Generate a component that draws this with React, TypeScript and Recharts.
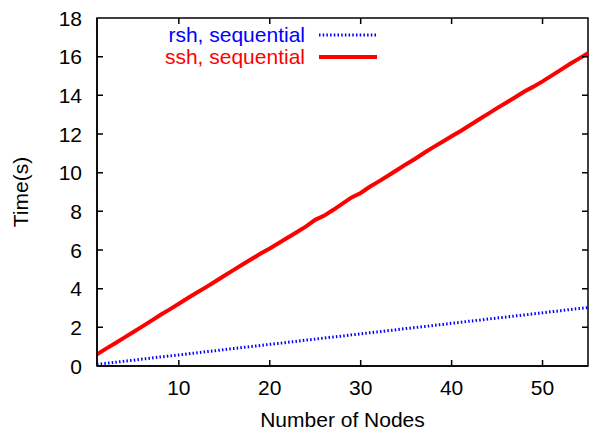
import React from 'react';
import { LineChart, Line, XAxis, YAxis, ReferenceArea } from 'recharts';

const nodes = [
  1, 2, 3, 4, 5, 6, 7, 8, 9, 10, 11, 12, 13, 14, 15, 16, 17, 18, 19, 20,
  21, 22, 23, 24, 25, 26, 27, 28, 29, 30, 31, 32, 33, 34, 35, 36, 37, 38, 39, 40,
  41, 42, 43, 44, 45, 46, 47, 48, 49, 50, 51, 52, 53, 54, 55,
];

const rshSequential = [
  0.08, 0.14, 0.19, 0.25, 0.3, 0.36, 0.41, 0.47, 0.52, 0.57, 0.63, 0.68, 0.74, 0.79, 0.85, 0.9, 0.96, 1.01, 1.06, 1.12,
  1.17, 1.23, 1.28, 1.34, 1.39, 1.45, 1.5, 1.55, 1.61, 1.66, 1.72, 1.77, 1.83, 1.88, 1.94, 1.99, 2.04, 2.1, 2.15, 2.21,
  2.26, 2.32, 2.37, 2.43, 2.48, 2.53, 2.59, 2.64, 2.7, 2.75, 2.81, 2.86, 2.92, 2.97, 3.02,
];

const sshSequential = [
  0.6, 0.9, 1.18, 1.47, 1.76, 2.05, 2.35, 2.65, 2.93, 3.22, 3.52, 3.8, 4.08, 4.37, 4.67, 4.96, 5.25, 5.53, 5.82, 6.08,
  6.36, 6.65, 6.93, 7.22, 7.56, 7.78, 8.08, 8.4, 8.72, 8.95, 9.27, 9.55, 9.84, 10.14, 10.44, 10.72, 11.03, 11.32, 11.6, 11.88,
  12.16, 12.45, 12.75, 13.04, 13.34, 13.62, 13.9, 14.2, 14.45, 14.72, 15.02, 15.32, 15.62, 15.9, 16.18,
];

const xTicks = [10, 20, 30, 40, 50];
const yTicks = [0, 2, 4, 6, 8, 10, 12, 14, 16, 18];

const data = nodes.map((n, i) => ({ n, rsh: rshSequential[i], ssh: sshSequential[i] }));

const FONT = 'Liberation Sans, Arial, sans-serif';
const FS = 21;
const TICK = 6;
const PLOT_W = 491;
const PLOT_H = 348;

// gnuplot style: ticks point into the plot, mirrored on top/right
function BottomTick(props: any) {
  const { x, y, payload } = props;
  return (
    <g>
      <path d={`M${x},${y}V${y - TICK}M${x},${y - PLOT_H}V${y - PLOT_H + TICK}`} stroke="#000" strokeWidth={1.5} fill="none" />
      <text x={x} y={y + 29} textAnchor="middle" fontFamily={FONT} fontSize={FS} fill="#000">
        {payload.value}
      </text>
    </g>
  );
}

function LeftTick(props: any) {
  const { x, y, payload } = props;
  const inner = payload.value !== 0 && payload.value !== 18;
  return (
    <g>
      {inner && (
        <path d={`M${x},${y}H${x + TICK}M${x + PLOT_W},${y}H${x + PLOT_W - TICK}`} stroke="#000" strokeWidth={1.5} fill="none" />
      )}
      <text x={x - 15} y={y + 7.5} textAnchor="end" fontFamily={FONT} fontSize={FS} fill="#000">
        {payload.value}
      </text>
    </g>
  );
}

const LegendBox = () => (
  <svg
    width={240}
    height={50}
    style={{ position: 'absolute', left: 150, top: 22, display: 'block', pointerEvents: 'none' }}
  >
    <text x={155} y={20} textAnchor="end" fontFamily={FONT} fontSize={FS} fill="#0000ff">
      rsh, sequential
    </text>
    <line x1={169} y1={13} x2={227} y2={13} stroke="#0000ff" strokeWidth={3} strokeDasharray="1.5 2.2" />
    <text x={155} y={42} textAnchor="end" fontFamily={FONT} fontSize={FS} fill="#ff0000">
      ssh, sequential
    </text>
    <line x1={169} y1={35} x2={227} y2={35} stroke="#ff0000" strokeWidth={4} />
  </svg>
);

export default function App() {
  return (
    <div style={{ position: 'absolute', left: 0, top: 0, width: 589, height: 431 }}>
      <LineChart width={589} height={431} data={data} margin={{ top: 18, right: 1, left: 0, bottom: 0 }}>
        <XAxis
          dataKey="n"
          type="number"
          domain={[1, 55]}
          ticks={xTicks}
          height={65}
          tickSize={0}
          tickMargin={0}
          tickLine={false}
          axisLine={{ stroke: '#000', strokeWidth: 1.5 }}
          tick={<BottomTick />}
          label={{
            content: () => (
              <text x={342.5} y={427} textAnchor="middle" fontFamily={FONT} fontSize={FS} fill="#000">
                Number of Nodes
              </text>
            ),
          }}
        />
        <YAxis
          type="number"
          domain={[0, 18]}
          ticks={yTicks}
          width={97}
          tickSize={0}
          tickMargin={0}
          tickLine={false}
          axisLine={{ stroke: '#000', strokeWidth: 1.5 }}
          tick={<LeftTick />}
          label={{
            content: () => (
              <text
                x={28}
                y={192}
                textAnchor="middle"
                transform="rotate(-90 28 192)"
                fontFamily={FONT}
                fontSize={FS}
                fill="#000"
              >
                Time(s)
              </text>
            ),
          }}
        />
        {/* plot frame */}
        <ReferenceArea x1={1} x2={55} y1={0} y2={18} fill="none" stroke="#000" strokeWidth={1.5} ifOverflow="visible" />
        <Line
          dataKey="rsh"
          name="rsh, sequential"
          stroke="#0000ff"
          strokeWidth={3}
          strokeDasharray="1.5 2.2"
          dot={false}
          isAnimationActive={false}
        />
        <Line
          dataKey="ssh"
          name="ssh, sequential"
          stroke="#ff0000"
          strokeWidth={4}
          dot={false}
          isAnimationActive={false}
        />
      </LineChart>
      <LegendBox />
    </div>
  );
}
